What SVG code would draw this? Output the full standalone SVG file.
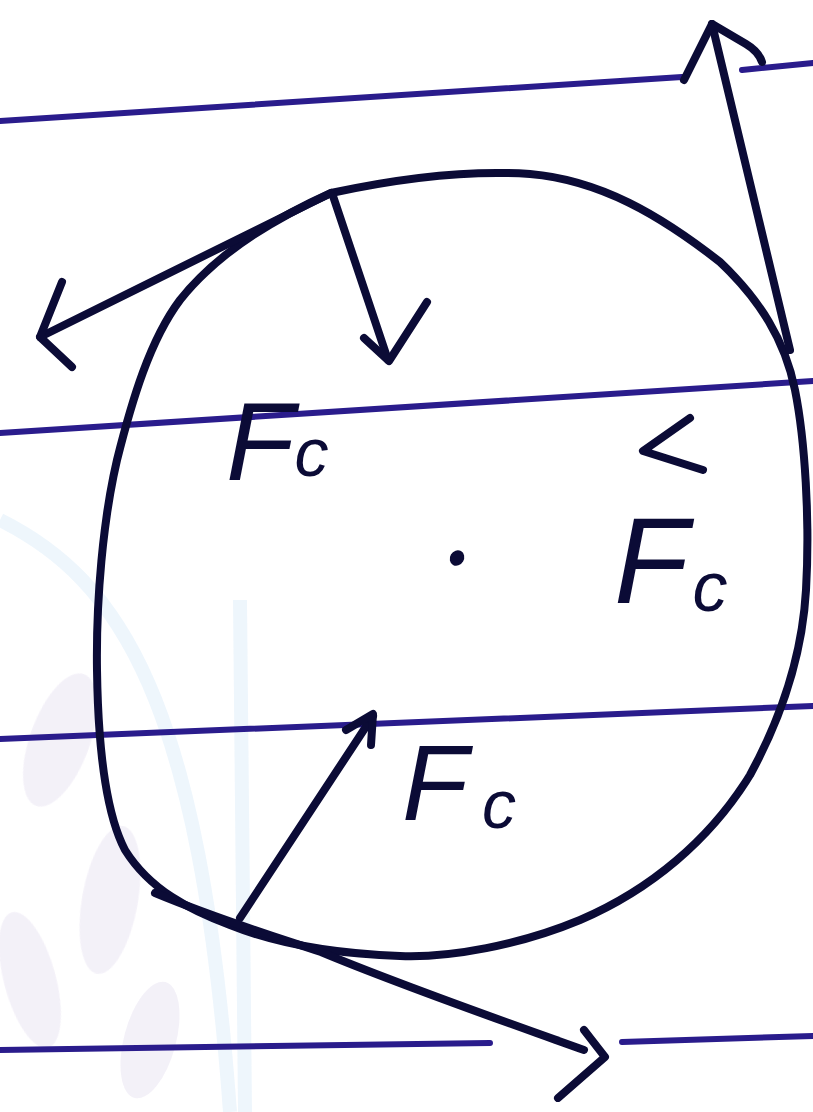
<svg xmlns="http://www.w3.org/2000/svg" width="813" height="1112" viewBox="0 0 813 1112">
<style>
.rule{fill:none;stroke:#2a1c8c;stroke-width:6;stroke-linecap:round}
.ink{fill:none;stroke:#0b0b36;stroke-width:8;stroke-linecap:round;stroke-linejoin:round}
.lbl{font-family:"Liberation Sans",Arial,sans-serif;fill:#0b0b36;font-style:italic}
.wm{fill:#f1eef7;stroke:none}
.wb{fill:none;stroke:#eaf4fc;stroke-width:14}
</style>
<rect width="813" height="1112" fill="#ffffff"/>
<g id="watermark" opacity="0.8">
<ellipse class="wm" cx="60" cy="740" rx="30" ry="70" transform="rotate(20 60 740)"/>
<ellipse class="wm" cx="110" cy="900" rx="28" ry="75" transform="rotate(10 110 900)"/>
<ellipse class="wm" cx="30" cy="980" rx="26" ry="70" transform="rotate(-15 30 980)"/>
<ellipse class="wm" cx="150" cy="1040" rx="26" ry="60" transform="rotate(15 150 1040)"/>
<path class="wb" d="M0,520 C120,580 200,700 230,1112"/>
<path class="wb" d="M240,600 L245,1112"/>
</g>
<g id="rules">
<path class="rule" d="M0,121 L682,77"/>
<path class="rule" d="M742,70 L813,63"/>
<path class="rule" d="M0,433 L813,381"/>
<path class="rule" d="M0,739 L813,706"/>
<path class="rule" d="M0,1050 L490,1043"/>
<path class="rule" d="M622,1042 L813,1036"/>
</g>
<g id="loop">
<path class="ink" d="M331,193 C400,178 470,170 530,174 C600,180 660,215 720,262 C760,300 785,340 795,390 C805,440 810,520 806,590 C802,660 780,720 750,775 C710,840 650,890 580,920 C520,945 450,958 400,956 C340,954 280,945 230,925 C190,910 150,890 125,850 C104,810 98,740 97,670 C96,600 103,520 117,460 C132,400 150,340 180,300 C210,262 260,225 331,193 Z"/>
</g>
<g id="centre">
<ellipse cx="457" cy="558" rx="7" ry="8" fill="#0b0b36" transform="rotate(30 457 558)"/>
</g>
<g id="connectors">
<path class="ink" d="M331,193 L40,337"/>
<path class="ink" d="M62,282 L40,337 L72,367"/>
<path class="ink" d="M333,196 L388,360"/>
<path class="ink" d="M364,338 L389,361 L427,302"/>
<path class="ink" d="M790,350 L712,24"/>
<path class="ink" d="M684,80 L712,24 L746,44 C756,50 760,56 762,62"/>
<path class="ink" d="M690,418 L643,451 L703,470"/>
<path class="ink" d="M240,918 L373,716"/>
<path class="ink" d="M346,730 L373,714 L371,745"/>
<path class="ink" d="M155,893 C220,920 270,935 321,952 C400,985 500,1020 584,1050"/>
<path class="ink" d="M584,1030 L605,1057 L558,1098"/>
</g>
<g id="label-top">
<text class="lbl" x="226" y="480" font-size="112">F<tspan font-size="68" dx="0" dy="-4">c</tspan></text>
</g>
<g id="label-right">
<text class="lbl" x="614" y="603" font-size="122">F<tspan font-size="70" dx="4" dy="8">c</tspan></text>
</g>
<g id="label-bottom">
<text class="lbl" x="402" y="820" font-size="108">F<tspan font-size="68" dx="14" dy="8">c</tspan></text>
</g>
</svg>
